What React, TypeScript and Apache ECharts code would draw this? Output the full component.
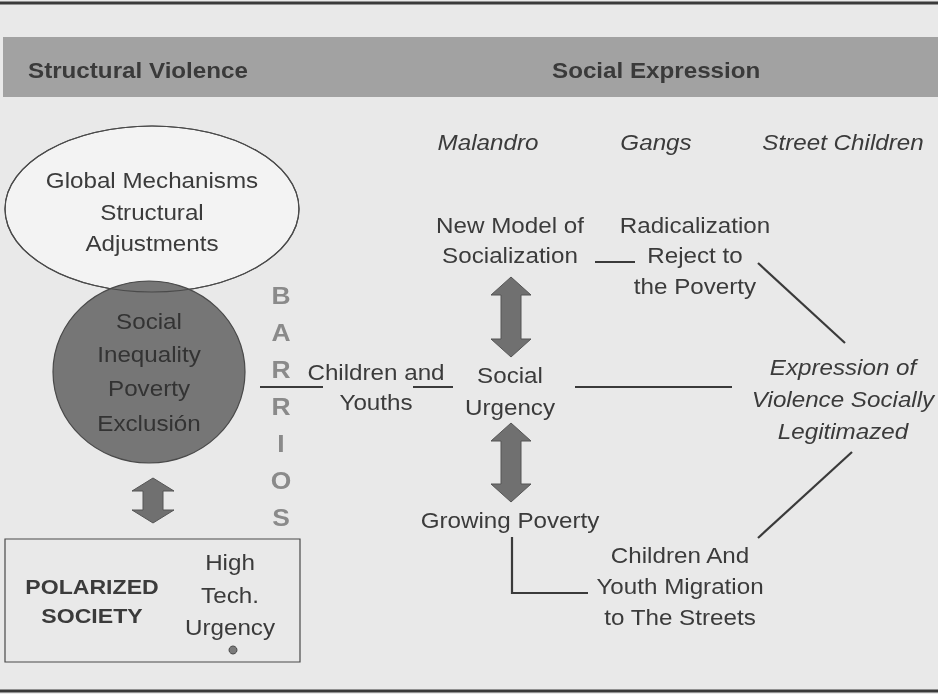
import React, { useEffect, useRef } from "react";
import * as echarts from "echarts";

// ---- Text content of the diagram ----
const headerLabels = ["Structural Violence", "Social Expression"];
const expressionTypes = ["Malandro", "Gangs", "Street Children"];
const globalLines = ["Global Mechanisms", "Structural", "Adjustments"];
const inequalityLines = ["Social", "Inequality", "Poverty", "Exclusión"];
const barriosLetters = ["B", "A", "R", "R", "I", "O", "S"];
const polarizedLines = ["POLARIZED", "SOCIETY"];
const highTechLines = ["High", "Tech.", "Urgency"];
const childrenLines = ["Children and", "Youths"];
const urgencyLines = ["Social", "Urgency"];
const socializationLines = ["New Model of", "Socialization"];
const radicalLines = ["Radicalization", "Reject to", "the Poverty"];
const expressionLines = ["Expression of", "Violence Socially", "Legitimazed"];
const growingLines = ["Growing Poverty"];
const migrationLines = ["Children And", "Youth Migration", "to The Streets"];

const FONT = '"Liberation Sans", Arial, Helvetica, sans-serif';
const INK = "#3b3b3b";
const LINE = "#3a3a3a";
const SX = 1.1;

function txt(
  text: string,
  x: number,
  y: number,
  o: { size?: number; bold?: boolean; italic?: boolean; fill?: string; align?: string } = {}
) {
  return {
    type: "text",
    x,
    y,
    scaleX: SX,
    z: 10,
    style: {
      text,
      x: 0,
      y: 0,
      fill: o.fill || INK,
      fontSize: o.size || 22,
      fontFamily: FONT,
      fontWeight: o.bold ? "bold" : "normal",
      fontStyle: o.italic ? "italic" : "normal",
      align: o.align || "center",
      verticalAlign: "middle",
    },
  };
}

function block(lines: string[], x: number, ys: number[], o: any = {}) {
  return lines.map((l, i) => txt(l, x, ys[i], o));
}

function seg(x1: number, y1: number, x2: number, y2: number, w = 2.2) {
  return {
    type: "line",
    z: 5,
    shape: { x1, y1, x2, y2 },
    style: { stroke: LINE, lineWidth: w },
  };
}

function dblArrow(cx: number, top: number, bottom: number, hw: number, sw: number, hh: number) {
  return {
    type: "polygon",
    z: 6,
    shape: {
      points: [
        [cx, top],
        [cx + hw, top + hh],
        [cx + sw, top + hh],
        [cx + sw, bottom - hh],
        [cx + hw, bottom - hh],
        [cx, bottom],
        [cx - hw, bottom - hh],
        [cx - sw, bottom - hh],
        [cx - sw, top + hh],
        [cx - hw, top + hh],
      ],
    },
    style: { fill: "#707070", stroke: "#555555", lineWidth: 1 },
  };
}

export default function App() {
  const ref = useRef<HTMLDivElement>(null);

  useEffect(() => {
    if (!ref.current) return;
    const chart = echarts.init(ref.current, undefined, { renderer: "svg" });

    const graphic: any[] = [
      // background
      { type: "rect", z: 0, shape: { x: 0, y: 0, width: 943, height: 694 }, style: { fill: "#ffffff" } },
      { type: "rect", z: 0, shape: { x: 0, y: 0, width: 938, height: 694 }, style: { fill: "#e9e9e9" } },
      // top rule and header band
      seg(0, 3, 938, 3, 3),
      { type: "rect", z: 1, shape: { x: 3, y: 37, width: 935, height: 60 }, style: { fill: "#a2a2a2" } },
      txt(headerLabels[0], 28, 70, { bold: true, align: "left", fill: "#3a3a3a" }),
      txt(headerLabels[1], 552, 70, { bold: true, align: "left", fill: "#3a3a3a" }),
      // bottom rule
      seg(0, 691, 938, 691, 3),

      // italic column labels
      txt(expressionTypes[0], 488, 142, { italic: true }),
      txt(expressionTypes[1], 656, 142, { italic: true }),
      txt(expressionTypes[2], 843, 142, { italic: true }),

      // ellipse (fill) then circle then ellipse outline
      { type: "ellipse", z: 2, shape: { cx: 152, cy: 209, rx: 147, ry: 83 }, style: { fill: "#f3f3f3", stroke: "#4a4a4a", lineWidth: 1.2 } },
      { type: "ellipse", z: 3, shape: { cx: 149, cy: 372, rx: 96, ry: 91 }, style: { fill: "#767676", stroke: "#4a4a4a", lineWidth: 1.2 } },
      { type: "ellipse", z: 4, shape: { cx: 152, cy: 209, rx: 147, ry: 83 }, style: { fill: "none", stroke: "#4a4a4a", lineWidth: 1.2 } },
      ...block(globalLines, 152, [180, 212, 243]),
      ...block(inequalityLines, 149, [321, 354, 388, 423], { fill: "#333333" }),

      // BARRIOS
      ...barriosLetters.map((l, i) => txt(l, 281, 295 + i * 37, { bold: true, size: 24, fill: "#8a8a8a" })),

      // left lower arrow + polarized box
      dblArrow(153, 478, 523, 21, 10, 13),
      { type: "rect", z: 2, shape: { x: 5, y: 539, width: 295, height: 123 }, style: { fill: "none", stroke: "#4a4a4a", lineWidth: 1.2 } },
      ...block(polarizedLines, 92, [587, 616], { bold: true, size: 21 }),
      ...block(highTechLines, 230, [562, 595, 627]),
      { type: "circle", z: 6, shape: { cx: 233, cy: 650, r: 4 }, style: { fill: "#7a7a7a", stroke: "#4a4a4a", lineWidth: 1 } },

      // middle row
      seg(260, 387, 323, 387),
      ...block(childrenLines, 376, [372, 402]),
      seg(413, 387, 453, 387),
      ...block(urgencyLines, 510, [375, 407]),
      seg(575, 387, 732, 387),
      ...block(expressionLines, 843, [367, 399, 431], { italic: true }),

      // upper row
      ...block(socializationLines, 510, [225, 255]),
      seg(595, 262, 635, 262),
      ...block(radicalLines, 695, [225, 255, 286]),
      seg(758, 263, 845, 343),

      // arrows
      dblArrow(511, 277, 357, 20, 10, 18),
      dblArrow(511, 423, 502, 20, 10, 18),

      // lower row
      ...block(growingLines, 510, [520]),
      { type: "polyline", z: 5, shape: { points: [[512, 537], [512, 593], [588, 593]] }, style: { stroke: LINE, lineWidth: 2.2, fill: "none" } },
      ...block(migrationLines, 680, [555, 586, 617]),
      seg(852, 452, 758, 538),
    ];

    chart.setOption({ animation: false, graphic });
    return () => chart.dispose();
  }, []);

  return (
    <div
      ref={ref}
      style={{ position: "fixed", left: 0, top: 0, width: 943, height: 694 }}
    />
  );
}
